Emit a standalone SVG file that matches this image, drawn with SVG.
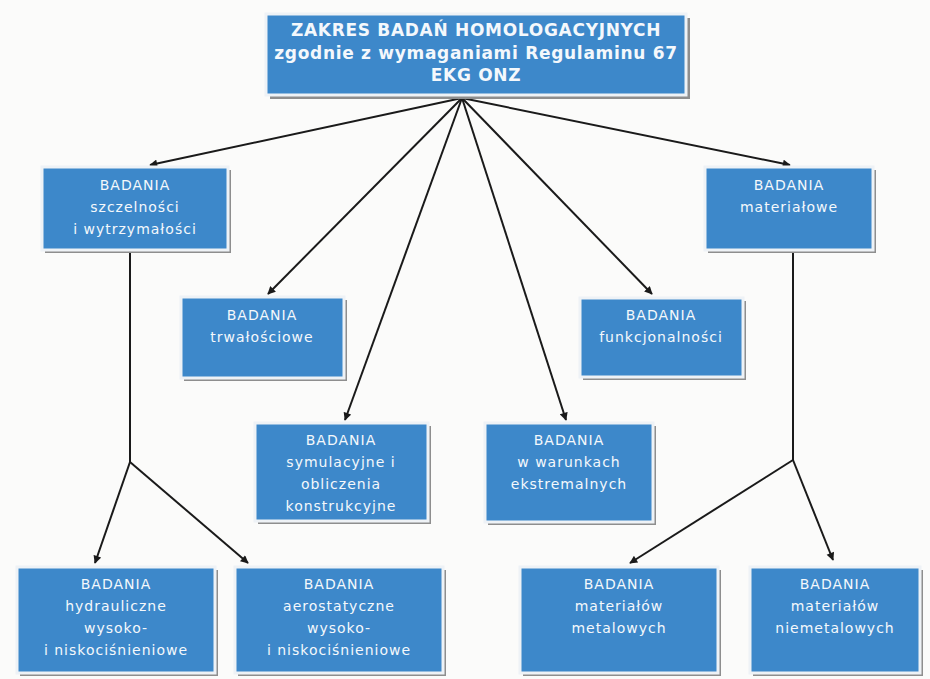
<svg xmlns="http://www.w3.org/2000/svg" width="930" height="679" viewBox="0 0 930 679">
<defs>
<marker id="ah" viewBox="0 0 10 10" refX="9" refY="5" markerWidth="9" markerHeight="8" markerUnits="userSpaceOnUse" orient="auto">
<path d="M0,0 L10,5 L0,10 z" fill="#1a1a1a"/>
</marker>
<style>
.sh{fill:#8e8e8e}
.bx{fill:#3d88ca;stroke:#eef2f6;stroke-width:3}
.t{font-family:"DejaVu Sans",Verdana,sans-serif;font-size:14px;letter-spacing:1px;fill:#f4f8fc;text-anchor:middle}
.tb{font-family:"DejaVu Sans",Verdana,sans-serif;font-size:17px;letter-spacing:0.7px;font-weight:bold;fill:#f4f8fc;text-anchor:middle}
.c{stroke:#1a1a1a;stroke-width:2;fill:none}
.ca{stroke:#1a1a1a;stroke-width:2;fill:none;marker-end:url(#ah)}
</style>
</defs>
<rect width="930" height="679" fill="#fbfbfa"/>

<g id="connectors">
<line class="ca" x1="462" y1="98" x2="150" y2="165"/>
<line class="ca" x1="462" y1="98" x2="268" y2="294"/>
<line class="ca" x1="462" y1="98" x2="345" y2="420"/>
<line class="ca" x1="462" y1="98" x2="566" y2="420"/>
<line class="ca" x1="462" y1="98" x2="652" y2="294"/>
<line class="ca" x1="462" y1="98" x2="790" y2="165"/>
<line class="c" x1="130" y1="252" x2="130" y2="462"/>
<line class="ca" x1="130" y1="462" x2="95" y2="563"/>
<line class="ca" x1="130" y1="462" x2="248" y2="563"/>
<line class="c" x1="793" y1="252" x2="793" y2="460"/>
<line class="ca" x1="793" y1="460" x2="630" y2="563"/>
<line class="ca" x1="793" y1="460" x2="833" y2="560"/>
</g>

<g id="n_top">
<rect class="sh" x="270" y="18" width="420" height="81"/>
<rect class="bx" x="266" y="14" width="420" height="81"/>
<text class="tb" x="476" y="36">ZAKRES BADAŃ HOMOLOGACYJNYCH</text>
<text class="tb" x="476" y="59">zgodnie z wymaganiami Regulaminu 67</text>
<text class="tb" x="476" y="81">EKG ONZ</text>
</g>

<g id="n_szczelnosci">
<rect class="sh" x="45" y="170" width="186" height="83"/>
<rect class="bx" x="42" y="167" width="186" height="83"/>
<text class="t" x="135" y="190">BADANIA</text>
<text class="t" x="135" y="212">szczelności</text>
<text class="t" x="135" y="234">i wytrzymałości</text>
</g>

<g id="n_materialowe">
<rect class="sh" x="708" y="170" width="168" height="83"/>
<rect class="bx" x="705" y="167" width="168" height="83"/>
<text class="t" x="789" y="190">BADANIA</text>
<text class="t" x="789" y="212">materiałowe</text>
</g>

<g id="n_trwalosciowe">
<rect class="sh" x="184" y="300" width="163" height="81"/>
<rect class="bx" x="181" y="297" width="163" height="81"/>
<text class="t" x="262" y="320">BADANIA</text>
<text class="t" x="262" y="342">trwałościowe</text>
</g>

<g id="n_funkcjonalnosci">
<rect class="sh" x="583" y="301" width="163" height="79"/>
<rect class="bx" x="580" y="298" width="163" height="79"/>
<text class="t" x="661" y="320">BADANIA</text>
<text class="t" x="661" y="342">funkcjonalności</text>
</g>

<g id="n_symulacyjne">
<rect class="sh" x="258" y="426" width="173" height="98"/>
<rect class="bx" x="255" y="423" width="173" height="98"/>
<text class="t" x="341" y="445">BADANIA</text>
<text class="t" x="341" y="467">symulacyjne i</text>
<text class="t" x="341" y="489">obliczenia</text>
<text class="t" x="341" y="511">konstrukcyjne</text>
</g>

<g id="n_ekstremalne">
<rect class="sh" x="488" y="426" width="168" height="99"/>
<rect class="bx" x="485" y="423" width="168" height="99"/>
<text class="t" x="569" y="445">BADANIA</text>
<text class="t" x="569" y="467">w warunkach</text>
<text class="t" x="569" y="489">ekstremalnych</text>
</g>

<g id="n_hydrauliczne">
<rect class="sh" x="20" y="570" width="198" height="106"/>
<rect class="bx" x="17" y="567" width="198" height="106"/>
<text class="t" x="116" y="589">BADANIA</text>
<text class="t" x="116" y="611">hydrauliczne</text>
<text class="t" x="116" y="633">wysoko-</text>
<text class="t" x="116" y="655">i niskociśnieniowe</text>
</g>

<g id="n_aerostatyczne">
<rect class="sh" x="238" y="570" width="208" height="106"/>
<rect class="bx" x="235" y="567" width="208" height="106"/>
<text class="t" x="339" y="589">BADANIA</text>
<text class="t" x="339" y="611">aerostatyczne</text>
<text class="t" x="339" y="633">wysoko-</text>
<text class="t" x="339" y="655">i niskociśnieniowe</text>
</g>

<g id="n_metalowe">
<rect class="sh" x="523" y="570" width="198" height="106"/>
<rect class="bx" x="520" y="567" width="198" height="106"/>
<text class="t" x="619" y="589">BADANIA</text>
<text class="t" x="619" y="611">materiałów</text>
<text class="t" x="619" y="633">metalowych</text>
</g>

<g id="n_niemetalowe">
<rect class="sh" x="753" y="570" width="170" height="106"/>
<rect class="bx" x="750" y="567" width="170" height="106"/>
<text class="t" x="835" y="589">BADANIA</text>
<text class="t" x="835" y="611">materiałów</text>
<text class="t" x="835" y="633">niemetalowych</text>
</g>
</svg>
